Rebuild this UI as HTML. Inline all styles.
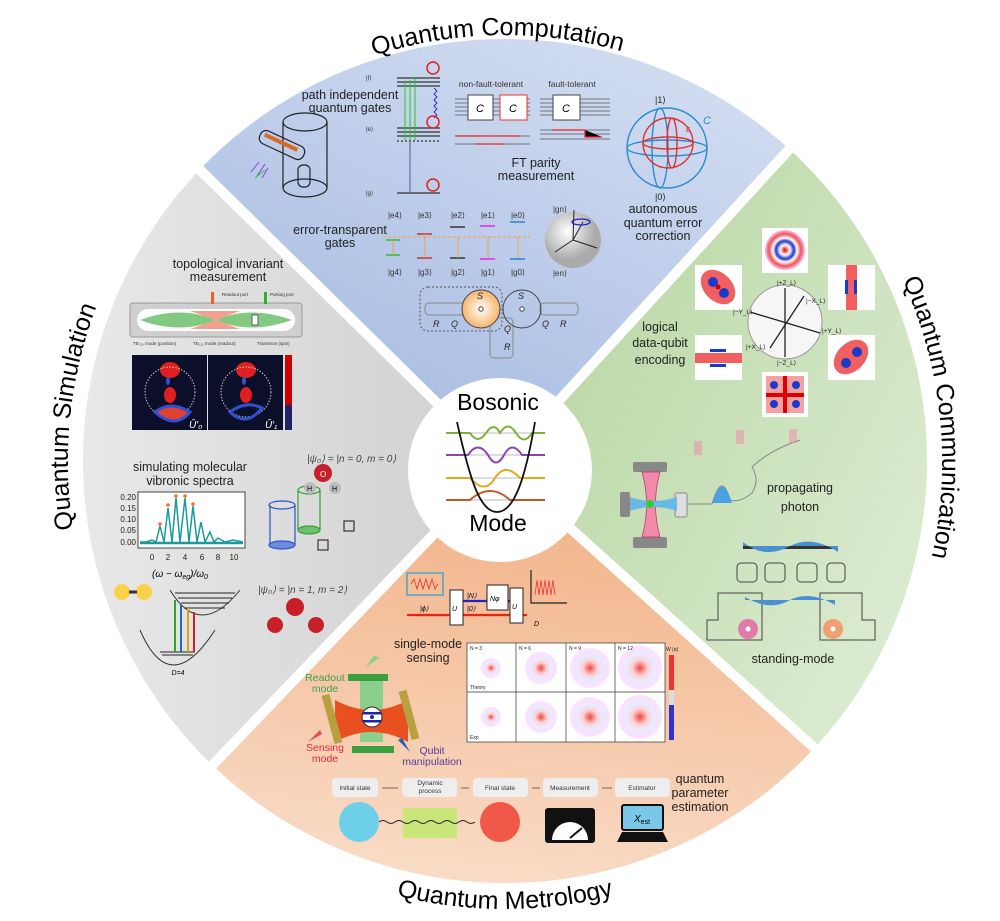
<!DOCTYPE html>
<html><head><meta charset="utf-8"><style>
html,body{margin:0;padding:0;background:#fff;overflow:hidden;}
svg{display:block;}
text{font-family:"Liberation Sans",sans-serif;}
</style></head><body>
<svg width="1000" height="921" viewBox="0 0 1000 921" xmlns="http://www.w3.org/2000/svg">
<defs>
<clipPath id="cc"><circle cx="505" cy="461" r="422"/></clipPath>
<linearGradient id="gb" x1="0.2" y1="0.8" x2="0.9" y2="0"><stop offset="0" stop-color="#a6bbe2"/><stop offset="1" stop-color="#eef2fa"/></linearGradient>
<linearGradient id="gg" x1="0.1" y1="0.2" x2="0.9" y2="1"><stop offset="0" stop-color="#b3d49d"/><stop offset="1" stop-color="#f3f8ee"/></linearGradient>
<linearGradient id="go" x1="0.5" y1="0" x2="0.3" y2="1"><stop offset="0" stop-color="#f1b083"/><stop offset="1" stop-color="#fdf0e6"/></linearGradient>
<linearGradient id="gy" x1="1" y1="0.5" x2="0" y2="0.5"><stop offset="0" stop-color="#cfcfcf"/><stop offset="1" stop-color="#f4f4f4"/></linearGradient>
<radialGradient id="wr"><stop offset="0" stop-color="#d00"/><stop offset="0.25" stop-color="#fff"/><stop offset="0.45" stop-color="#23c"/><stop offset="0.6" stop-color="#fff"/><stop offset="0.8" stop-color="#e55"/><stop offset="1" stop-color="#fbe"/></radialGradient>
<radialGradient id="wp"><stop offset="0" stop-color="#e33"/><stop offset="0.35" stop-color="#fcc"/><stop offset="0.6" stop-color="#e8e8ff"/><stop offset="1" stop-color="#fdf"/></radialGradient>
<radialGradient id="sph" cx="0.4" cy="0.35"><stop offset="0" stop-color="#fff"/><stop offset="1" stop-color="#aaa"/></radialGradient>
<radialGradient id="s1g"><stop offset="0" stop-color="#fff"/><stop offset="1" stop-color="#f6b46a"/></radialGradient>
<path id="arcT" d="M84.5,387.9 A427,427 0 0 1 925.5,387.9"/>
<path id="arcS" d="M74.6,386.2 A437,437 0 0 1 935.4,386.2"/>
<path id="arcB" d="M64.8,539.6 A447,447 0 0 0 945.2,539.6"/>
</defs>

<g clip-path="url(#cc)">
<polygon points="500,465 -102,-125 1070,-155" fill="url(#gb)"/>
<polygon points="500,465 1070,-155 1124,1027" fill="url(#gg)"/>
<polygon points="500,465 1124,1027 -70,1065" fill="url(#go)"/>
<polygon points="500,465 -70,1065 -102,-125" fill="url(#gy)"/>
</g>
<g stroke="#fff" stroke-width="10">
<line x1="500" y1="465" x2="190" y2="160"/>
<line x1="500" y1="465" x2="795" y2="143"/>
<line x1="500" y1="465" x2="820" y2="753"/>
<line x1="500" y1="465" x2="205" y2="773"/>
</g>

<g transform="rotate(-1 505 462)"><text font-size="25" text-anchor="middle"><textPath href="#arcT" startOffset="50%">Quantum Computation</textPath></text></g>
<g transform="rotate(-84 505 462)"><text font-size="25" text-anchor="middle"><textPath href="#arcS" startOffset="50%">Quantum Simulation</textPath></text></g>
<g transform="rotate(84 505 462)"><text font-size="25" text-anchor="middle"><textPath href="#arcS" startOffset="50%">Quantum Communication</textPath></text></g>
<text font-size="25" text-anchor="middle"><textPath href="#arcB" startOffset="50%">Quantum Metrology</textPath></text>

<circle cx="500" cy="470" r="92" fill="#fff"/>
<text x="498" y="410" font-size="23" text-anchor="middle">Bosonic</text>
<text x="498" y="531" font-size="23" text-anchor="middle">Mode</text>
<g fill="none" stroke-width="2">
<line x1="446" y1="433" x2="545" y2="433" stroke="#bbb" stroke-width="1"/>
<line x1="446" y1="455" x2="545" y2="455" stroke="#bbb" stroke-width="1"/>
<line x1="446" y1="478" x2="545" y2="478" stroke="#bbb" stroke-width="1"/>
<line x1="446" y1="500" x2="545" y2="500" stroke="#bbb" stroke-width="1"/>
<path d="M446,433 H470 Q478,445 486,433 T500,433 Q508,420 516,433 T532,433 H545" stroke="#7ab03c"/>
<path d="M446,455 H468 Q478,440 488,455 Q496,470 504,455 Q512,440 522,455 H545" stroke="#8e44ad"/>
<path d="M446,478 H470 Q485,495 495,478 Q505,462 520,478 H545" stroke="#e0a820"/>
<path d="M446,500 H470 Q490,482 510,500 H545" stroke="#c0562a"/>
<path d="M457,422 C470,480 480,512 497,512 C514,512 525,480 535,422" stroke="#111" stroke-width="1.8"/>
</g>

<g font-size="12.5" fill="#222" text-anchor="middle">
<text x="350" y="99">path independent</text><text x="350" y="112">quantum gates</text>
<text x="536" y="167">FT parity</text><text x="536" y="180">measurement</text>
<text x="663" y="213">autonomous</text><text x="663" y="227">quantum error</text><text x="663" y="240">correction</text>
<text x="340" y="234">error-transparent</text><text x="340" y="247">gates</text>
</g>
<g font-size="8.5" fill="#333" text-anchor="middle"><text x="491" y="87">non-fault-tolerant</text><text x="572" y="87">fault-tolerant</text></g>
<g fill="none" stroke="#222" stroke-width="1.2">
<ellipse cx="305" cy="122" rx="22" ry="9"/><path d="M283,122 V188 M327,122 V188"/><ellipse cx="305" cy="188" rx="22" ry="9"/>
<rect x="298" y="165" width="12" height="22" rx="5"/>
<rect x="258" y="138" width="48" height="14" rx="6" transform="rotate(25 282 145)"/>
</g>
<rect x="262" y="141" width="36" height="4" fill="#d86a20" transform="rotate(25 282 145)"/>
<g stroke-width="1"><path d="M251,172 l8,-10 M257,176 l8,-12 M262,178 l6,-10" stroke="#8a3fd0"/><path d="M255,178 l10,-8" stroke="#2c2"/></g>
<g stroke="#333" stroke-width="1.2">
<line x1="397" y1="78" x2="440" y2="78"/><line x1="397" y1="82" x2="440" y2="82"/><line x1="397" y1="86" x2="440" y2="86"/>
<line x1="397" y1="128" x2="440" y2="128"/><line x1="397" y1="132" x2="440" y2="132"/><line x1="397" y1="136" x2="440" y2="136"/>
<line x1="397" y1="141" x2="440" y2="141" stroke-dasharray="2,2"/>
<line x1="397" y1="193" x2="440" y2="193"/>
</g>
<g font-size="6" fill="#333"><text x="366" y="80">|f⟩</text><text x="366" y="131">|e⟩</text><text x="366" y="195">|g⟩</text></g>
<g stroke-width="1"><line x1="405" y1="140" x2="405" y2="82" stroke="#2c2"/><line x1="410" y1="140" x2="410" y2="80" stroke="#2c2"/><line x1="415" y1="140" x2="415" y2="78" stroke="#2c2"/><line x1="410" y1="193" x2="410" y2="142" stroke="#55a"/></g>
<path d="M434,88 l3,3 -3,3 3,3 -3,3 3,3 -3,3 3,3 -3,3 3,3 -3,3" fill="none" stroke="#33c" stroke-width="1"/>
<g fill="none" stroke="#d22" stroke-width="1.5"><circle cx="433" cy="68" r="6"/><circle cx="433" cy="122" r="6"/><circle cx="433" cy="185" r="6"/></g>
<g stroke="#555" stroke-width="0.8">
<path d="M455,99H530M455,103H530M455,107H530M455,111H530M455,115H530M455,136H530M455,144H530"/>
<path d="M540,99H610M540,103H610M540,107H610M540,111H610M540,115H610M540,130H610M540,134H610M540,139H610"/>
</g>
<rect x="468" y="95" width="25" height="25" fill="#fff" stroke="#444"/><text x="480" y="112" font-size="11" font-style="italic" text-anchor="middle">C</text>
<rect x="500" y="95" width="27" height="25" fill="#fff" stroke="#e33"/><text x="513" y="112" font-size="11" font-style="italic" text-anchor="middle">C</text>
<rect x="553" y="95" width="27" height="25" fill="#fff" stroke="#444"/><text x="566" y="112" font-size="11" font-style="italic" text-anchor="middle">C</text>
<g stroke="#e22" stroke-width="1.3"><path d="M455,136H520M475,144H505"/><path d="M552,130H585M585,130V137H602"/></g>
<g font-size="8" fill="#333" text-anchor="middle"><text x="395" y="218">|e4⟩</text><text x="425" y="218">|e3⟩</text><text x="458" y="218">|e2⟩</text><text x="488" y="218">|e1⟩</text><text x="518" y="218">|e0⟩</text>
<text x="395" y="275">|g4⟩</text><text x="425" y="275">|g3⟩</text><text x="458" y="275">|g2⟩</text><text x="488" y="275">|g1⟩</text><text x="518" y="275">|g0⟩</text>
<text x="560" y="212">|gn⟩</text><text x="560" y="276">|en⟩</text></g>
<line x1="383" y1="237" x2="530" y2="237" stroke="#f0a040" stroke-dasharray="3,2"/>
<g stroke-width="1.5"><path d="M386,240h14M386,255h14" stroke="#3b3"/><path d="M417,234h15M417,258h15" stroke="#c33"/><path d="M450,227h15M450,258h15" stroke="#333"/><path d="M480,226h15M480,259h15" stroke="#e2e"/><path d="M510,222h15M510,259h15" stroke="#28c"/></g>
<g stroke="#f0a040" stroke-width="1"><path d="M393,240V255M425,234V258M458,237V258M488,237V258M518,237V258"/></g>
<circle cx="573" cy="240" r="28" fill="url(#sph)"/><g stroke="#222" stroke-width="1" fill="none"><path d="M573,240 L574,210 M573,240 L597,248 M573,240 L555,252 M573,240 L583,222"/></g><ellipse cx="581" cy="222" rx="9" ry="3" fill="none" stroke="#22c" stroke-width="1.3"/>
<rect x="420" y="287" width="82" height="44" rx="8" fill="none" stroke="#555" stroke-dasharray="2,2"/>
<rect x="425" y="303" width="42" height="12" rx="4" fill="none" stroke="#888"/><rect x="540" y="303" width="38" height="12" rx="4" fill="none" stroke="#888"/>
<rect x="490" y="318" width="23" height="40" rx="4" fill="none" stroke="#888"/>
<circle cx="481" cy="309" r="19" fill="url(#s1g)" stroke="#444"/><circle cx="522" cy="309" r="19" fill="none" stroke="#444"/>
<circle cx="481" cy="309" r="2.2" fill="#fff" stroke="#444"/><circle cx="522" cy="309" r="2.2" fill="#fff" stroke="#444"/>
<g font-size="9" font-style="italic" fill="#222"><text x="477" y="299">S</text><text x="518" y="299">S</text><text x="433" y="327">R</text><text x="451" y="327">Q</text><text x="542" y="327">Q</text><text x="560" y="327">R</text><text x="504" y="332">Q</text><text x="504" y="350">R</text></g>
<g fill="none" stroke-width="1.4"><circle cx="667" cy="148" r="40" stroke="#2a8ad0"/><ellipse cx="667" cy="148" rx="40" ry="8" stroke="#2a8ad0"/><ellipse cx="660" cy="148" rx="8" ry="40" stroke="#2a8ad0"/>
<circle cx="668" cy="143" r="25" stroke="#e03030"/><ellipse cx="668" cy="143" rx="25" ry="6" stroke="#e03030"/><ellipse cx="672" cy="143" rx="5" ry="25" stroke="#e03030"/></g>
<g font-size="9" fill="#222"><text x="655" y="103">|1⟩</text><text x="655" y="200">|0⟩</text></g><text x="703" y="124" font-size="11" fill="#2a8ad0" font-style="italic">C</text><text x="686" y="132" font-size="9" fill="#e03030" font-style="italic">ε</text>

<g font-size="12.5" fill="#222" text-anchor="middle">
<text x="228" y="268">topological invariant</text><text x="228" y="281">measurement</text>
<text x="190" y="471">simulating molecular</text><text x="190" y="485">vibronic spectra</text>
</g>
<rect x="130" y="303" width="172" height="34" rx="3" fill="#cfcfcf" stroke="#999"/>
<rect x="137" y="309" width="158" height="22" rx="11" fill="#fff"/>
<path d="M140,320 Q180,305 216,320 Q250,305 292,320 Q250,335 216,320 Q180,335 140,320Z" fill="#6cbf6c" opacity="0.85"/>
<path d="M190,311 L216,320 L240,311Z M190,329 L216,320 L240,329Z" fill="#f4a090"/>
<rect x="211" y="292" width="3" height="12" fill="#f06020"/><rect x="264" y="292" width="3" height="12" fill="#30b030"/>
<rect x="252" y="315" width="6" height="10" fill="#fff" stroke="#333" stroke-width="0.7"/>
<g font-size="4.5" fill="#333"><text x="222" y="296">Readout port</text><text x="270" y="296">Pulsing port</text><text x="133" y="345">TE₂₁₀ mode (position)</text><text x="193" y="345">TE₁₁₀ mode (readout)</text><text x="257" y="345">Transmon (spin)</text></g>
<rect x="132" y="355" width="75" height="75" fill="#0b0f2a"/><rect x="208" y="355" width="75" height="75" fill="#0b0f2a"/>
<rect x="285" y="355" width="7" height="75" fill="#c00"/><rect x="285" y="405" width="7" height="25" fill="#226"/>
<g fill="#e02020"><ellipse cx="170" cy="370" rx="10" ry="8"/><ellipse cx="170" cy="395" rx="6" ry="8"/><ellipse cx="246" cy="370" rx="10" ry="8"/><ellipse cx="246" cy="395" rx="6" ry="8"/></g>
<g fill="#3050d0"><ellipse cx="168" cy="381" rx="2" ry="4"/><ellipse cx="244" cy="381" rx="2" ry="4"/></g>
<g fill="none" stroke="#ccc" stroke-dasharray="1.5,1.5"><circle cx="170" cy="392" r="25"/><circle cx="246" cy="392" r="25"/></g>
<path d="M155,412 Q170,400 190,412 Q175,430 155,412Z" fill="#e04030" stroke="#3050d0" stroke-width="3"/>
<path d="M230,412 Q246,428 262,408 Q246,400 230,412Z" fill="none" stroke="#3050d0" stroke-width="3"/>
<text x="189" y="428" font-size="10" fill="#fff" font-style="italic">Û′₀</text><text x="265" y="428" font-size="10" fill="#fff" font-style="italic">Û′₁</text>
<rect x="138" y="492" width="107" height="56" fill="#fff" stroke="#444"/>
<g font-size="8" fill="#222" text-anchor="end"><text x="136" y="500">0.20</text><text x="136" y="511">0.15</text><text x="136" y="522">0.10</text><text x="136" y="533">0.05</text><text x="136" y="545">0.00</text></g>
<g font-size="8" fill="#222" text-anchor="middle"><text x="152" y="560">0</text><text x="168" y="560">2</text><text x="185" y="560">4</text><text x="202" y="560">6</text><text x="218" y="560">8</text><text x="234" y="560">10</text></g>
<text x="180" y="577" font-size="10" font-style="italic" text-anchor="middle" font-family="Liberation Serif">(ω − ω<tspan font-size="7" dy="2">eg</tspan><tspan dy="-2">)/ω</tspan><tspan font-size="7" dy="2">0</tspan></text>
<path d="M140,542 H146 L152,540 L156,542 L160,526 L164,542 L168,508 L172,542 L176,498 L180,542 L185,498 L189,542 L193,506 L197,542 L201,522 L205,542 L210,532 L214,542 L218,538 L225,542 L233,540 L243,542" fill="none" stroke="#1a9a9a" stroke-width="1.5"/>
<line x1="140" y1="543" x2="243" y2="543" stroke="#1a9a9a" stroke-width="2.5"/>
<g fill="#f07030"><circle cx="160" cy="524" r="1.8"/><circle cx="168" cy="505" r="1.8"/><circle cx="176" cy="496" r="1.8"/><circle cx="185" cy="496" r="1.8"/><circle cx="193" cy="504" r="1.8"/></g>
<g font-size="10" fill="#444" font-family="Liberation Serif" font-style="italic"><text x="307" y="462">|ψ₀⟩ = |n = 0, m = 0⟩</text><text x="258" y="593">|ψ₀⟩ = |n = 1, m = 2⟩</text></g>
<g fill="none" stroke-width="1.2"><path d="M270,505 V545 M295,505 V545" stroke="#3050d0"/><ellipse cx="282" cy="505" rx="13" ry="4" stroke="#3050d0"/><ellipse cx="282" cy="545" rx="13" ry="4" stroke="#3050d0" fill="#6b8ae0"/>
<path d="M298,490 V530 M320,490 V530" stroke="#30a030"/><ellipse cx="309" cy="490" rx="11" ry="4" stroke="#30a030"/><ellipse cx="309" cy="530" rx="11" ry="4" stroke="#30a030" fill="#70c070"/>
<rect x="344" y="521" width="10" height="10" stroke="#333"/><rect x="318" y="540" width="10" height="10" stroke="#333"/></g>
<g><circle cx="323" cy="473" r="9" fill="#c8202a"/><circle cx="310" cy="488" r="6" fill="#bbb"/><circle cx="335" cy="488" r="6" fill="#bbb"/><text x="320" y="477" font-size="8" fill="#fff">O</text><text x="307" y="491" font-size="7">H</text><text x="332" y="491" font-size="7">H</text></g>
<g><circle cx="295" cy="607" r="9" fill="#c8202a"/><circle cx="275" cy="625" r="8" fill="#c8202a"/><circle cx="316" cy="625" r="8" fill="#c8202a"/></g>
<circle cx="122" cy="592" r="8" fill="#fbd04a"/><circle cx="144" cy="592" r="8" fill="#fbd04a"/><path d="M129,592 h8" stroke="#333" stroke-width="3"/>
<path d="M170,590 Q200,640 240,590" fill="none" stroke="#333"/><path d="M140,630 Q170,700 215,630" fill="none" stroke="#333"/>
<g stroke="#222" stroke-width="1"><path d="M175,593H235M178,598H232M181,603H229M184,608H225"/><path d="M160,652H195M162,655H193"/></g>
<g stroke-width="2"><line x1="175" y1="652" x2="175" y2="600" stroke="#2a2"/><line x1="181" y1="652" x2="181" y2="605" stroke="#236ab0"/><line x1="188" y1="652" x2="188" y2="608" stroke="#d9a020"/><line x1="194" y1="652" x2="194" y2="612" stroke="#c22"/></g>
<text x="178" y="675" font-size="7" font-style="italic" text-anchor="middle">D=4</text>

<g font-size="12.5" fill="#222" text-anchor="middle">
<text x="660" y="331">logical</text><text x="660" y="347">data-qubit</text><text x="660" y="364">encoding</text>
<text x="800" y="492">propagating</text><text x="800" y="511">photon</text>
<text x="793" y="663">standing-mode</text>
</g>
<g>
<rect x="762" y="228" width="46" height="45" fill="#fff"/><circle cx="785" cy="250" r="20" fill="url(#wr)"/>
<rect x="695" y="265" width="47" height="45" fill="#fff"/><ellipse cx="718" cy="287" rx="14" ry="20" fill="#f06060" transform="rotate(-45 718 287)"/><circle cx="713" cy="282" r="5" fill="#1a3acc"/><circle cx="724" cy="293" r="5" fill="#1a3acc"/><circle cx="718" cy="287" r="2.5" fill="#c00"/>
<rect x="828" y="265" width="47" height="45" fill="#fff"/><rect x="846" y="265" width="11" height="45" fill="#f06060"/><rect x="845" y="280" width="3" height="14" fill="#1a3acc"/><rect x="854" y="280" width="3" height="14" fill="#1a3acc"/>
<rect x="695" y="335" width="47" height="45" fill="#fff"/><rect x="695" y="353" width="47" height="10" fill="#f06060"/><rect x="710" y="349" width="16" height="3" fill="#1a3acc"/><rect x="710" y="364" width="16" height="3" fill="#1a3acc"/>
<rect x="828" y="335" width="47" height="45" fill="#fff"/><ellipse cx="851" cy="357" rx="14" ry="20" fill="#f06060" transform="rotate(45 851 357)"/><circle cx="846" cy="363" r="5" fill="#1a3acc"/><circle cx="857" cy="352" r="5" fill="#1a3acc"/>
<rect x="762" y="372" width="46" height="45" fill="#fff"/><rect x="766" y="376" width="38" height="37" fill="#f6a0a0"/><g fill="#1a3acc"><circle cx="774" cy="385" r="4"/><circle cx="796" cy="385" r="4"/><circle cx="774" cy="404" r="4"/><circle cx="796" cy="404" r="4"/></g><g fill="#d00"><rect x="783" y="376" width="4" height="37"/><rect x="766" y="393" width="38" height="4"/></g>
</g>
<circle cx="785" cy="322" r="37" fill="#f6f6f6" stroke="#999"/>
<g stroke="#222" stroke-width="1.3"><line x1="785" y1="288" x2="785" y2="357"/><line x1="750" y1="312" x2="820" y2="333"/><line x1="770" y1="348" x2="804" y2="296"/></g>
<g font-size="6.5" fill="#222"><text x="777" y="285">|+Z_L⟩</text><text x="777" y="365">|−Z_L⟩</text><text x="733" y="314">|−Y_L⟩</text><text x="822" y="333">|+Y_L⟩</text><text x="806" y="303">|−X_L⟩</text><text x="746" y="349">|+X_L⟩</text></g>
<rect x="633" y="462" width="34" height="10" rx="2" fill="#888"/><rect x="633" y="537" width="34" height="11" rx="2" fill="#888"/>
<rect x="620" y="492" width="10" height="25" rx="2" fill="#888"/><rect x="675" y="493" width="12" height="24" rx="2" fill="#ddd" stroke="#888"/>
<path d="M642,472 Q651,504 642,537 H660 Q651,504 660,472Z" fill="#f08aa8" stroke="#c03060" stroke-width="0.7"/>
<path d="M630,497 Q652,505 677,497 V511 Q652,503 630,511Z" fill="#6ab8e8"/>
<circle cx="650" cy="504" r="4" fill="#3c3"/>
<path d="M687,504 H712 Q722,470 730,500 Q740,503 752,493 Q760,480 752,467 Q770,450 800,440" fill="none" stroke="#888"/>
<path d="M712,503 Q722,470 732,503Z" fill="#4aa0e0"/>
<g opacity="0.5"><rect x="694" y="441" width="8" height="14" fill="#f08aa8"/><rect x="736" y="430" width="8" height="14" fill="#f08aa8"/><rect x="789" y="429" width="8" height="14" fill="#f08aa8"/></g>
<rect x="743" y="546" width="95" height="3" fill="#333"/>
<path d="M743,542 Q765,560 790,546 Q812,535 838,552 V546 H743Z" fill="#4a90d0"/>
<g fill="none" stroke="#444"><rect x="737" y="563" width="20" height="19" rx="4"/><rect x="765" y="563" width="20" height="19" rx="4"/><rect x="797" y="563" width="20" height="19" rx="4"/><rect x="827" y="563" width="18" height="19" rx="4"/>
<path d="M707,640 V620 H718 V593 H762 V640Z"/><path d="M875,640 V620 H862 V593 H820 V640Z"/></g>
<path d="M745,597 Q770,612 790,600 Q810,590 835,605 V600 H745Z" fill="#4a90d0"/>
<circle cx="748" cy="629" r="10" fill="#e07aa8"/><circle cx="748" cy="629" r="2.5" fill="#fff"/><circle cx="833" cy="629" r="10" fill="#f0a070"/><circle cx="833" cy="629" r="2.5" fill="#fff"/>

<g font-size="12.5" fill="#222" text-anchor="middle">
<text x="428" y="648">single-mode</text><text x="428" y="662">sensing</text>
<text x="700" y="783">quantum</text><text x="700" y="797">parameter</text><text x="700" y="811">estimation</text>
</g>
<g font-size="10.5" text-anchor="middle"><text x="325" y="681" fill="#3aa050">Readout</text><text x="325" y="692" fill="#3aa050">mode</text>
<text x="325" y="751" fill="#e02a3a">Sensing</text><text x="325" y="762" fill="#e02a3a">mode</text>
<text x="432" y="754" fill="#5a3aa0">Qubit</text><text x="432" y="765" fill="#5a3aa0">manipulation</text></g>
<path d="M360,680 H383 V742 H360Z" fill="#8ccf8c"/>
<path d="M335,700 Q372,720 408,700 V742 Q372,722 335,742Z" fill="#e85020"/>
<rect x="348" y="674" width="40" height="7" fill="#3aa040"/><rect x="352" y="746" width="42" height="7" fill="#3aa040"/>
<rect x="328" y="694" width="8" height="50" fill="#b8a040" transform="rotate(-15 332 719)"/><rect x="405" y="690" width="8" height="50" fill="#b8a040" transform="rotate(-15 409 715)"/>
<circle cx="372" cy="717" r="10" fill="#fff" stroke="#222"/><rect x="363" y="712" width="18" height="2.5" fill="#22a"/><rect x="363" y="720" width="18" height="2.5" fill="#22a"/><circle cx="372" cy="717" r="2" fill="#22a"/>
<path d="M366,667 l8,-12 5,3z" fill="#8ccf8c"/><path d="M308,742 l14,-8 -2,-4z" fill="#e05050"/><path d="M410,752 l-12,-12 4,-2z" fill="#2a60b0"/>
<line x1="407" y1="615" x2="527" y2="615" stroke="#e21" stroke-width="2.2"/><line x1="462" y1="601" x2="510" y2="601" stroke="#22c" stroke-width="2.2"/>
<rect x="407" y="573" width="36" height="22" fill="none" stroke="#7ab" stroke-width="2"/><path d="M411,584 l3,-5 3,10 3,-10 3,10 3,-10 3,10 3,-10 3,10 3,-5" fill="none" stroke="#d33" stroke-width="0.8"/>
<rect x="450" y="590" width="13" height="35" fill="#fff" stroke="#222"/><rect x="487" y="585" width="21" height="25" fill="#fff" stroke="#222"/><rect x="510" y="588" width="13" height="35" fill="#fff" stroke="#222"/>
<g font-size="7" font-style="italic"><text x="452" y="611">U</text><text x="490" y="601">Nφ</text><text x="512" y="609">U</text><text x="420" y="611">|ϕ⟩</text><text x="467" y="598">|N⟩</text><text x="467" y="611">|0⟩</text><text x="534" y="626">D</text></g>
<path d="M531,570 V603 H567" fill="none" stroke="#222" stroke-width="1.2"/><path d="M535,595 l2,-15 2,15 2,-15 2,15 2,-15 2,15 2,-15 2,15 2,-15 2,15" fill="none" stroke="#e33" stroke-width="0.8"/>
<rect x="467" y="643" width="198" height="99" fill="#fff" stroke="#333" stroke-width="0.7"/>
<g stroke="#333" stroke-width="0.7"><line x1="516" y1="643" x2="516" y2="742"/><line x1="566" y1="643" x2="566" y2="742"/><line x1="615" y1="643" x2="615" y2="742"/><line x1="467" y1="692" x2="665" y2="692"/></g>
<g opacity="0.9"><circle cx="491" cy="668" r="10" fill="url(#wp)"/><circle cx="541" cy="668" r="16" fill="url(#wp)"/><circle cx="590" cy="668" r="20" fill="url(#wp)"/><circle cx="640" cy="668" r="22" fill="url(#wp)"/>
<circle cx="491" cy="717" r="10" fill="url(#wp)"/><circle cx="541" cy="717" r="16" fill="url(#wp)"/><circle cx="590" cy="717" r="20" fill="url(#wp)"/><circle cx="640" cy="717" r="22" fill="url(#wp)"/></g>
<g font-size="5" fill="#222"><text x="470" y="650">N = 3</text><text x="519" y="650">N = 6</text><text x="569" y="650">N = 9</text><text x="618" y="650">N = 12</text><text x="470" y="689">Theory</text><text x="470" y="739">Exp</text><text x="666" y="651">W (α)</text></g>
<rect x="669" y="655" width="5" height="85" fill="#ddd"/><rect x="669" y="655" width="5" height="35" fill="#e33"/><rect x="669" y="705" width="5" height="35" fill="#33c"/>
<g fill="#eeeeee"><rect x="332" y="778" width="46" height="19" rx="4"/><rect x="402" y="778" width="55" height="19" rx="4"/><rect x="473" y="778" width="55" height="19" rx="4"/><rect x="543" y="778" width="55" height="19" rx="4"/><rect x="615" y="778" width="55" height="19" rx="4"/></g>
<g font-size="6.5" fill="#333" text-anchor="middle"><text x="355" y="790">Initial state</text><text x="430" y="785">Dynamic</text><text x="430" y="793">process</text><text x="500" y="790">Final state</text><text x="570" y="790">Measurement</text><text x="642" y="790">Estimator</text></g>
<g stroke="#444" stroke-width="0.8"><path d="M382,788h16M461,788h8M532,788h8M602,788h10"/></g>
<circle cx="359" cy="822" r="20" fill="#6ed0e8"/><rect x="403" y="808" width="54" height="30" fill="#c8e67a"/>
<path d="M379,822 q4,-3 8,0 t8,0 t8,0 t8,0 t8,0 t8,0 t8,0 t8,0 t8,0 t8,0 t8,0 t8,0" fill="none" stroke="#222"/>
<circle cx="500" cy="822" r="20" fill="#f0584a"/>
<rect x="545" y="808" width="50" height="35" rx="3" fill="#111"/><path d="M552,840 A18,18 0 0 1 588,840Z" fill="#fff"/><line x1="570" y1="838" x2="582" y2="828" stroke="#111" stroke-width="2"/>
<rect x="622" y="805" width="41" height="25" rx="2" fill="#7ac8e8" stroke="#111" stroke-width="2"/><path d="M617,842 L622,832 H663 L668,842Z" fill="#111"/>
<text x="634" y="822" font-size="10" font-style="italic">X<tspan font-size="7" dy="2" font-style="normal">est</tspan></text>
</svg>
</body></html>
